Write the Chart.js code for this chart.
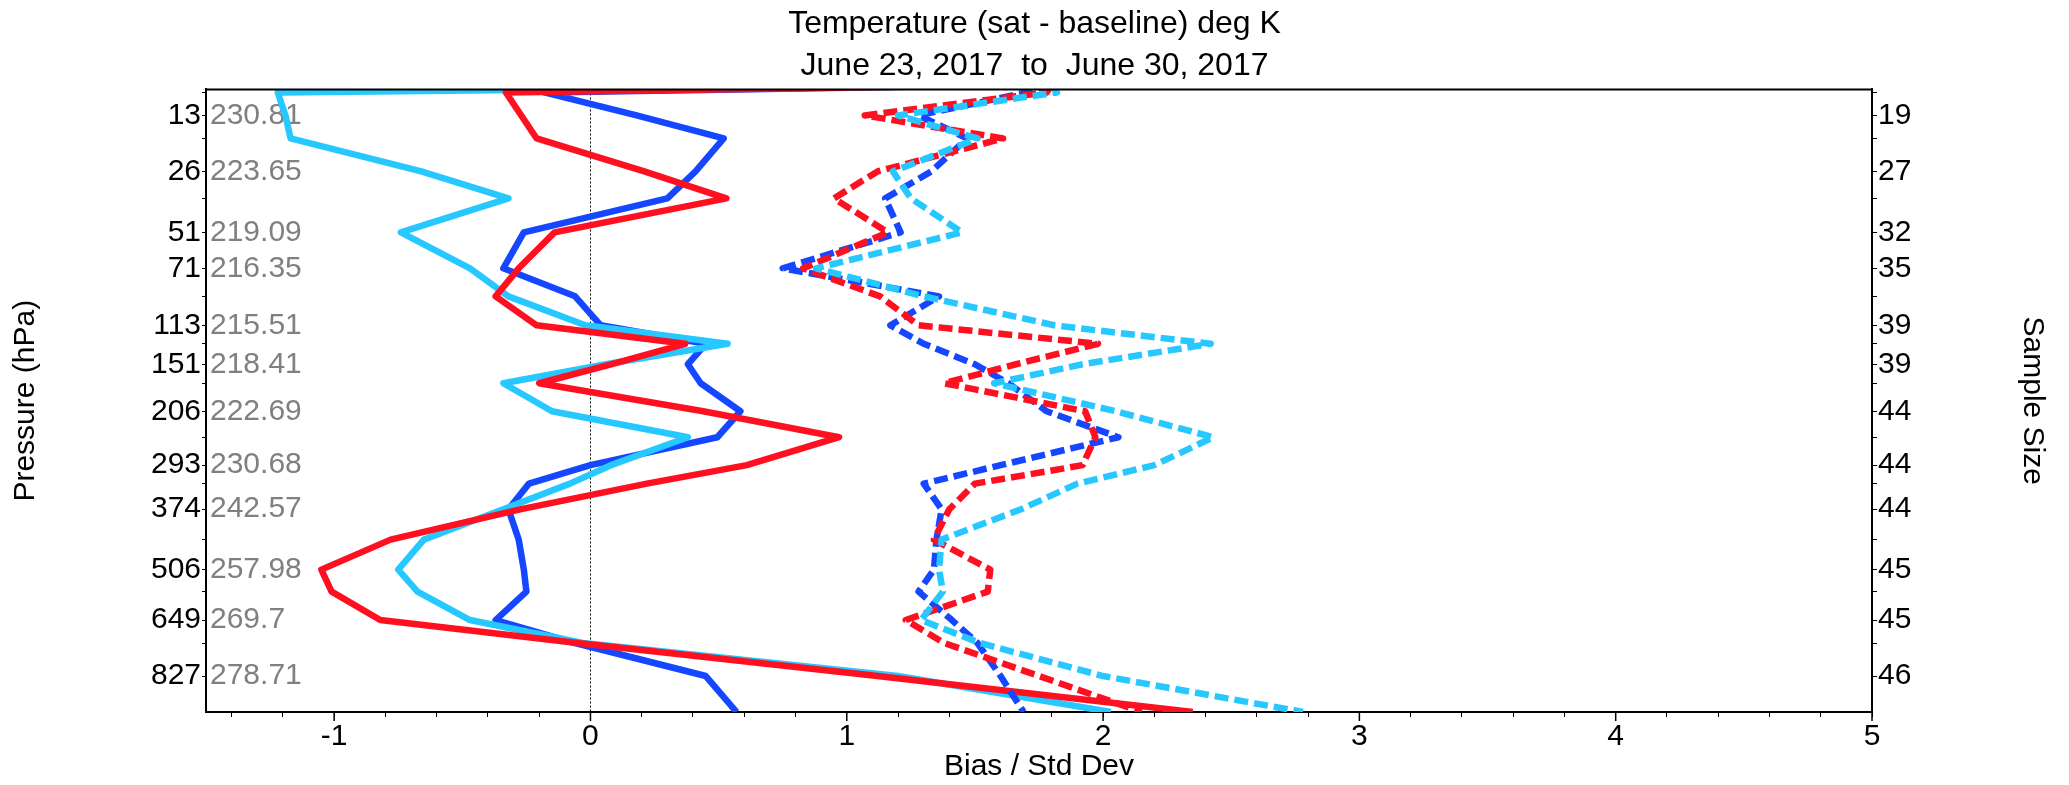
<!DOCTYPE html>
<html>
<head>
<meta charset="utf-8">
<script src="https://cdn.jsdelivr.net/npm/chart.js@4.4.1/dist/chart.umd.min.js"></script>
<style>
  body { margin: 0; background: #fff; }
  #wrap { width: 2069px; height: 785px; }
</style>
</head>
<body>
<div id="wrap"><canvas id="myChart" width="2069" height="785"></canvas></div>
<script>
// y axis: position of each pressure level, 0 = top of plot, 100 = bottom
// first entry is just above the plot, last one is the bottom edge
const levelPos = [-0.8, 0.48, 4.17, 7.87, 13.16, 17.5, 22.95, 28.73, 33.23, 37.88, 40.85, 44.14,
  47.19, 51.69, 55.86, 60.35, 63.32, 67.42, 72.31, 77.13, 80.66, 85.23, 88.92, 94.22, 100];
// levels that carry a tick mark (indices into levelPos)
const tickLevels = [1, 2, 3, 4, 5, 6, 7, 8, 9, 10, 11, 12, 13, 14, 15, 16, 17, 18, 19, 20, 21, 22, 23];
// labelled levels
const labelLevels = [2, 4, 6, 7, 9, 11, 13, 15, 17, 19, 21, 23];
const pressureLabels = ['13', '26', '51', '71', '113', '151', '206', '293', '374', '506', '649', '827'];
const tempLabels = ['230.81', '223.65', '219.09', '216.35', '215.51', '218.41', '222.69', '230.68', '242.57', '257.98', '269.7', '278.71'];
const sampleSizes = ['19', '27', '32', '35', '39', '39', '44', '44', '44', '45', '45', '46'];

const xLabels = [-1, 0, 1, 2, 3, 4, 5];

// bias / std dev values, one per level in levelPos
const biasBlue = [1.8, -0.18, 0.18, 0.52, 0.41, 0.30, -0.26, -0.34, -0.06, 0.04, 0.45, 0.38, 0.43, 0.585, 0.495, 0.0, -0.24, -0.32, -0.28, -0.26, -0.25, -0.37, -0.06, 0.45, 0.57];
const biasRed = [1.8, -0.33, -0.27, -0.21, 0.21, 0.53, -0.14, -0.28, -0.37, -0.21, 0.37, 0.08, -0.2, 0.44, 0.97, 0.61, 0.22, -0.27, -0.78, -1.05, -1.01, -0.82, -0.05, 1.12, 2.35];
const biasCyan = [1.8, -1.22, -1.19, -1.17, -0.66, -0.32, -0.74, -0.47, -0.32, -0.02, 0.535, 0.06, -0.34, -0.15, 0.38, 0.08, -0.08, -0.34, -0.65, -0.75, -0.675, -0.47, -0.03, 1.2, 2.03];
const sdBlue = [1.8, 1.7, 1.28, 1.47, 1.33, 1.15, 1.21, 0.75, 1.36, 1.17, 1.3, 1.5, 1.63, 1.78, 2.06, 1.6, 1.30, 1.37, 1.35, 1.34, 1.28, 1.41, 1.51, 1.6, 1.69];
const sdRed = [1.8, 1.78, 1.07, 1.61, 1.12, 0.95, 1.16, 0.83, 1.13, 1.28, 1.98, 1.66, 1.38, 1.93, 1.97, 1.92, 1.5, 1.40, 1.34, 1.56, 1.55, 1.23, 1.38, 1.75, 2.15];
const sdCyan = [1.8, 1.82, 1.20, 1.51, 1.18, 1.25, 1.45, 0.88, 1.30, 1.81, 2.42, 1.92, 1.575, 2.05, 2.43, 2.2, 1.9, 1.68, 1.37, 1.36, 1.375, 1.29, 1.52, 2.0, 2.78];

const BLUE = '#1447ff', RED = '#ff1020', CYAN = '#26c8ff';
const FONT = '"Liberation Sans", Arial, sans-serif';

function profile(vals) {
  return vals.map((v, i) => ({ x: v, y: levelPos[i] }));
}

function lineSet(vals, color, dashed) {
  return {
    data: profile(vals),
    showLine: true,
    borderColor: color,
    borderWidth: 6.5,
    borderDash: dashed ? [14, 6] : [],
    borderJoinStyle: 'round',
    pointRadius: 0,
    tension: 0,
    clip: 0
  };
}

// gray temperatures, zero line, top frame and the long integer ticks
const overlay = {
  id: 'overlay',
  beforeDatasetsDraw(chart) {
    const { ctx, chartArea: a, scales } = chart;
    ctx.save();
    const x0 = scales.x.getPixelForValue(0);
    ctx.strokeStyle = '#000';
    ctx.lineWidth = 1;
    ctx.setLineDash([2, 2]);
    ctx.beginPath();
    ctx.moveTo(x0, a.top);
    ctx.lineTo(x0, a.bottom);
    ctx.stroke();
    ctx.setLineDash([]);

    ctx.fillStyle = '#808080';
    ctx.font = '30px ' + FONT;
    ctx.textAlign = 'left';
    ctx.textBaseline = 'middle';
    labelLevels.forEach((li, i) => {
      ctx.fillText(tempLabels[i], a.left + 4, scales.y.getPixelForValue(levelPos[li]));
    });
    ctx.restore();
  },
  afterDraw(chart) {
    const { ctx, chartArea: a, scales } = chart;
    ctx.save();
    ctx.strokeStyle = '#000';
    ctx.lineWidth = 2;
    ctx.beginPath();
    ctx.moveTo(a.left - 1, a.top);
    ctx.lineTo(a.right + 1, a.top);
    ctx.stroke();
    ctx.lineWidth = 1.5;
    xLabels.forEach(v => {
      const px = scales.x.getPixelForValue(v);
      ctx.beginPath();
      ctx.moveTo(px, a.bottom);
      ctx.lineTo(px, a.bottom + 9);
      ctx.stroke();
    });
    ctx.restore();
  }
};

const xTicks = [];
for (let v = -14; v <= 50; v += 2) xTicks.push(v / 10);

const tickFont = { family: FONT, size: 30 };

new Chart(document.getElementById('myChart'), {
  type: 'scatter',
  data: {
    datasets: [
      lineSet(sdCyan, CYAN, true),
      lineSet(sdRed, RED, true),
      lineSet(sdBlue, BLUE, true),
      lineSet(biasRed, RED, false),
      lineSet(biasCyan, CYAN, false),
      lineSet(biasBlue, BLUE, false)
    ]
  },
  options: {
    responsive: false,
    animation: false,
    events: [],
    plugins: {
      legend: { display: false },
      tooltip: { enabled: false },
      title: {
        display: true,
        text: ['Temperature (sat - baseline) deg K', 'June 23, 2017  to  June 30, 2017'],
        color: '#000',
        font: { family: FONT, size: 32, weight: 'normal', lineHeight: 1.32 },
        padding: { top: 3, bottom: 2 }
      }
    },
    scales: {
      x: {
        type: 'linear',
        min: -1.5,
        max: 5,
        afterBuildTicks: s => { s.ticks = xTicks.map(v => ({ value: v })); },
        afterFit: s => { s.height = 73; },
        ticks: {
          autoSkip: false,
          maxRotation: 0,
          color: '#000',
          font: tickFont,
          padding: 2,
          callback: v => (xLabels.includes(Math.round(v * 10) / 10) ? String(Math.round(v)) : '')
        },
        grid: { display: true, drawOnChartArea: false, tickLength: 5, tickColor: '#000', tickWidth: 1 },
        border: { display: true, color: '#000', width: 2 },
        title: { display: true, text: 'Bias / Std Dev', color: '#000', font: { family: FONT, size: 30 }, padding: { top: 0, bottom: 0 } }
      },
      y: {
        type: 'linear',
        position: 'left',
        min: 0,
        max: 100,
        reverse: true,
        afterBuildTicks: s => { s.ticks = tickLevels.map(i => ({ value: levelPos[i] })); },
        afterFit: s => { s.width = 206; },
        ticks: {
          autoSkip: false,
          color: '#000',
          font: tickFont,
          padding: 1,
          callback: (v, idx) => {
            const k = labelLevels.indexOf(tickLevels[idx]);
            return k >= 0 ? pressureLabels[k] : '';
          }
        },
        grid: { display: true, drawOnChartArea: false, tickLength: 4, tickColor: '#000', tickWidth: 1 },
        border: { display: true, color: '#000', width: 2 },
        title: { display: true, text: 'Pressure (hPa)', color: '#000', font: { family: FONT, size: 30 }, padding: { top: 8, bottom: 0 } }
      },
      y2: {
        type: 'linear',
        position: 'right',
        min: 0,
        max: 100,
        reverse: true,
        afterBuildTicks: s => { s.ticks = tickLevels.map(i => ({ value: levelPos[i] })); },
        afterFit: s => { s.width = 197; },
        ticks: {
          autoSkip: false,
          color: '#000',
          font: tickFont,
          padding: 1,
          callback: (v, idx) => {
            const k = labelLevels.indexOf(tickLevels[idx]);
            return k >= 0 ? sampleSizes[k] : '';
          }
        },
        grid: { display: true, drawOnChartArea: false, tickLength: 5, tickColor: '#000', tickWidth: 1 },
        border: { display: true, color: '#000', width: 2 },
        title: { display: true, text: 'Sample Size', color: '#000', font: { family: FONT, size: 30 }, padding: { top: 19, bottom: 0 } }
      }
    }
  },
  plugins: [overlay]
});
</script>
</body>
</html>
